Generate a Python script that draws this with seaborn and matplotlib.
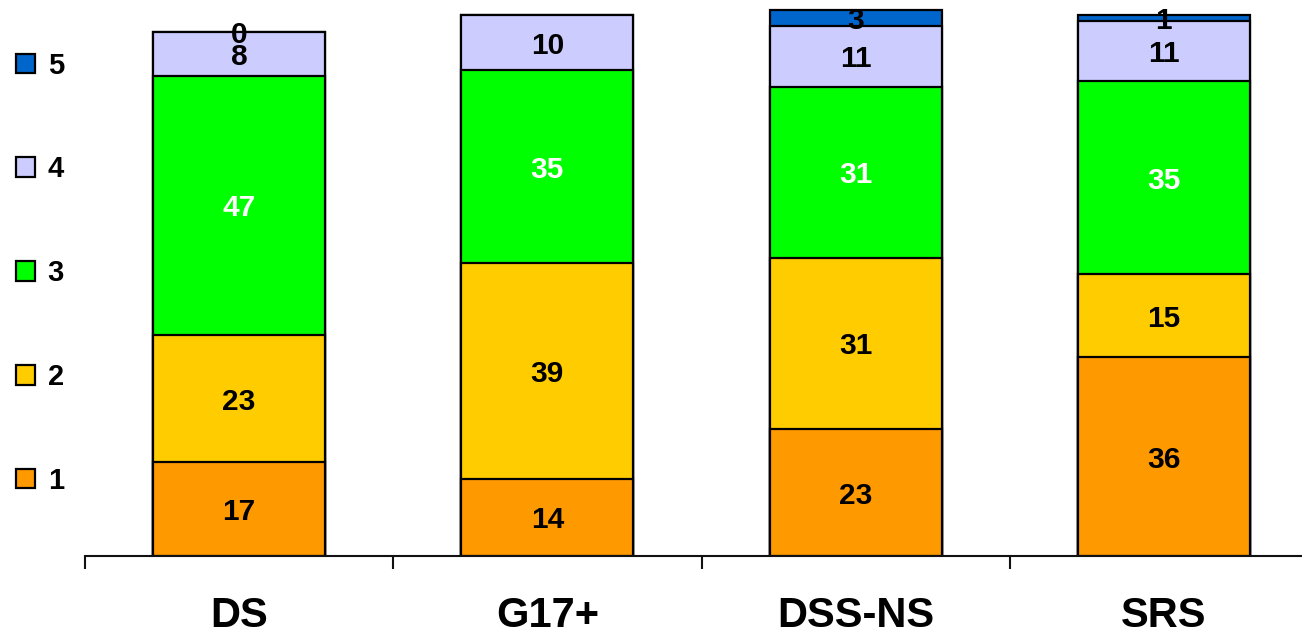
import numpy as np
import pandas as pd
import matplotlib
matplotlib.use("Agg")
import matplotlib.pyplot as plt
from matplotlib.patches import Patch
import seaborn as sns

# data
groups = ["DS", "G17+", "DSS-NS", "SRS"]
levels = ["1", "2", "3", "4", "5"]
level_1 = [17, 14, 23, 36]
level_2 = [23, 39, 31, 15]
level_3 = [47, 35, 31, 35]
level_4 = [8, 10, 11, 11]
level_5 = [0, 0, 3, 1]
colors = ["#FF9900", "#FFCC00", "#00FF00", "#CCCCFF", "#0066CC"]
text_colors = ["black", "black", "white", "black", "black"]

sns.set_style("white")
plt.rcParams["font.family"] = ["Liberation Sans", "DejaVu Sans"]
plt.rcParams["font.weight"] = "bold"
plt.rcParams["text.color"] = "black"
plt.rcParams["xtick.color"] = "black"
plt.rcParams["xtick.labelcolor"] = "black"

values = np.array([level_1, level_2, level_3, level_4, level_5])
cum = values.cumsum(axis=0)

fig = plt.figure(figsize=(13.02, 6.34), dpi=100)
ax = fig.add_axes([85 / 1302, 78 / 634, 1233 / 1302, 552 / 634])

# draw cumulative bars from the tallest down so each level covers the one above
for i in range(len(levels) - 1, -1, -1):
    df = pd.DataFrame({"group": groups, "total": cum[i]})
    sns.barplot(data=df, x="group", y="total", color=colors[i], saturation=1,
                width=0.558, edgecolor="black", linewidth=1.6, ax=ax)

# segment labels (G17+ shows no label for level 5)
for i in range(len(levels)):
    for j in range(len(groups)):
        v = values[i, j]
        if i == 4 and groups[j] == "G17+":
            continue
        y = cum[i, j] - v / 2
        ax.text(j, y, str(v), ha="center", va="center_baseline", fontsize=21.5,
                fontweight="bold", color=text_colors[i])

ax.set_xlim(-0.5, 3.5)
ax.set_ylim(0, 100)
ax.set_xlabel("")
ax.set_ylabel("")
ax.set_yticks([])
for side in ["left", "right", "top"]:
    ax.spines[side].set_visible(False)
ax.spines["bottom"].set_linewidth(1.5)
ax.spines["bottom"].set_color("#111111")
ax.set_xticks(np.arange(-0.5, 4, 1), minor=True)
ax.tick_params(axis="x", which="minor", length=9.5, width=1.5, color="#111111",
               direction="out", bottom=True)
ax.tick_params(axis="x", which="major", length=0, pad=29, labelsize=30)
for lab in ax.get_xticklabels():
    lab.set_fontweight("bold")
    lab.set_color("black")

handles = [Patch(facecolor=colors[i], edgecolor="black", linewidth=1.6,
                 label=levels[i]) for i in range(len(levels) - 1, -1, -1)]
fig.legend(handles=handles, loc="upper left", bbox_to_anchor=(0.003, 0.937),
           frameon=False, prop={"size": 21, "weight": "bold"},
           handlelength=0.65, handleheight=0.65, handletextpad=0.45,
           labelspacing=2.6, borderaxespad=0, labelcolor="black")

fig.savefig("out.png", dpi=100)
